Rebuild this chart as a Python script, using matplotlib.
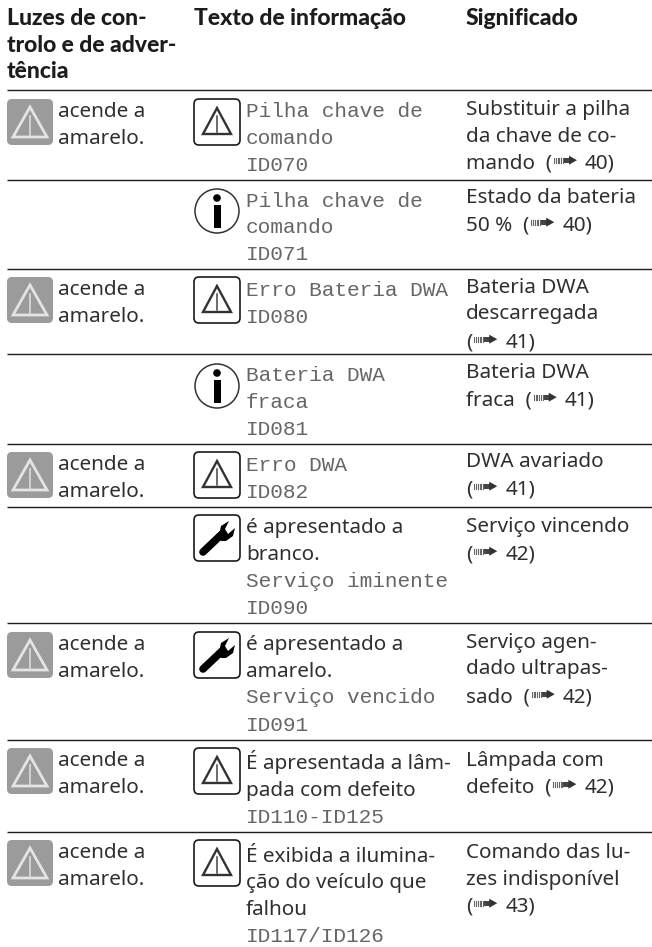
import matplotlib
matplotlib.use('Agg')
import matplotlib.pyplot as plt
from matplotlib.patches import FancyBboxPatch, Polygon, Circle, Rectangle

SANS = 'Noto Sans'
SANS_SIZE = 14.9
MONO = 'Liberation Mono'
MONO_SIZE = 15.2
TEXT_COLOR = '#2f2f2f'
MONO_COLOR = '#666666'

# horizontal rules, pixels from the top
rules = [90, 180, 269, 354, 444, 507, 623, 740, 832]

headers = [
    (7, ['Luzes de con-', 'trolo e de adver-', 'tência']),
    (194, ['Texto de informação']),
    (466, ['Significado']),
]

# left column: top of the grey icon for rows that have one
lamp_rows = [99, 277, 452, 632, 748, 840]

# middle column icon: (kind, top)
info_icons = [
    ('warn', 99), ('info', 188), ('warn', 277), ('info', 363), ('warn', 452),
    ('wrench', 515), ('wrench', 632), ('warn', 748), ('warn', 840),
]

# middle column text, s = sans, m = mono: (kind, baseline, text)
info_text = [
    [('m', 117, 'Pilha chave de'), ('m', 144, 'comando'), ('m', 171, 'ID070')],
    [('m', 207, 'Pilha chave de'), ('m', 233, 'comando'), ('m', 260, 'ID071')],
    [('m', 296, 'Erro Bateria DWA'), ('m', 323, 'ID080')],
    [('m', 381, 'Bateria DWA'), ('m', 408, 'fraca'), ('m', 435, 'ID081')],
    [('m', 471, 'Erro DWA'), ('m', 498, 'ID082')],
    [('s', 533, 'é apresentado a'), ('s', 560, 'branco.'),
     ('m', 587, 'Serviço iminente'), ('m', 614, 'ID090')],
    [('s', 650, 'é apresentado a'), ('s', 677, 'amarelo.'),
     ('m', 703, 'Serviço vencido'), ('m', 731, 'ID091')],
    [('s', 769, 'É apresentada a lâm-'), ('s', 796, 'pada com defeito'),
     ('m', 823, 'ID110-ID125')],
    [('s', 862, 'É exibida a ilumina-'), ('s', 888, 'ção do veículo que'),
     ('s', 915, 'falhou'), ('m', 942, 'ID117/ID126')],
]

# right column: (baseline, before arrow, page or None)
meaning = [
    (115, 'Substituir a pilha', None), (141.5, 'da chave de co-', None),
    (168, 'mando  (', '40)'),
    (203, 'Estado da bateria', None), (230, '50 %  (', '40)'),
    (293, 'Bateria DWA', None), (319, 'descarregada', None), (347, '(', '41)'),
    (378, 'Bateria DWA', None), (405, 'fraca  (', '41)'),
    (467, 'DWA avariado', None), (494, '(', '41)'),
    (532, 'Serviço vincendo', None), (559, '(', '42)'),
    (648, 'Serviço agen-', None), (674, 'dado ultrapas-', None), (702, 'sado  (', '42)'),
    (766, 'Lâmpada com', None), (792, 'defeito  (', '42)'),
    (858, 'Comando das lu-', None), (885, 'zes indisponível', None), (911, '(', '43)'),
]

fig = plt.figure(figsize=(6.52, 9.47), dpi=100)
ax = fig.add_axes([0, 0, 1, 1])
ax.set_xlim(0, 652)
ax.set_ylim(947, 0)
ax.axis('off')


def lamp_icon(x, y):
    ax.add_patch(FancyBboxPatch((x + 3, y + 3), 40, 40, boxstyle='round,pad=3,rounding_size=5',
                                fc='#9b9b9b', ec='none'))
    ax.add_patch(Polygon([(x + 23, y + 8), (x + 6, y + 38), (x + 40, y + 38)], closed=True,
                         fc='none', ec='#e4e4e4', lw=2))
    ax.plot([x + 23, x + 23], [y + 17, y + 37], color='#dddddd', lw=1.2)


def warn_icon(x, y):
    ax.add_patch(FancyBboxPatch((x + 3, y + 3), 40, 40, boxstyle='round,pad=3,rounding_size=5',
                                fc='white', ec='#1a1a1a', lw=1.2))
    ax.add_patch(Polygon([(x + 23, y + 9), (x + 9, y + 35), (x + 37, y + 35)], closed=True,
                         fc='none', ec='#333333', lw=1.7))
    ax.plot([x + 23, x + 23], [y + 17, y + 33], color='#444444', lw=1.1)


def info_icon(x, y):
    ax.add_patch(Circle((x + 23, y + 23), 22, fc='white', ec='#333333', lw=1.1))
    ax.add_patch(Circle((x + 23, y + 10), 3.8, fc='black', ec='none'))
    ax.add_patch(Rectangle((x + 19.5, y + 17), 7, 23, fc='black', ec='none'))


def wrench_icon(x, y):
    ax.add_patch(FancyBboxPatch((x + 3, y + 3), 40, 40, boxstyle='round,pad=3,rounding_size=5',
                                fc='white', ec='#1a1a1a', lw=1.2))
    ax.plot([x + 9, x + 28], [y + 37, y + 19], color='black', lw=5.5, solid_capstyle='round')
    ax.add_patch(Polygon([(x + 25, y + 20), (x + 27, y + 11), (x + 35, y + 6), (x + 31, y + 14),
                          (x + 34, y + 19), (x + 41, y + 13), (x + 39, y + 21), (x + 32, y + 26),
                          (x + 27, y + 26)], closed=True, fc='black', ec='none'))


def arrow_mark(x, baseline):
    # striped arrow used for page references
    for i in range(6):
        ax.plot([x + i * 1.8, x + i * 1.8], [baseline - 10.5, baseline - 5], color='#666666', lw=0.8)
    ax.add_patch(Rectangle((x + 10, baseline - 10.5), 6, 5.5, fc='#444444', ec='none'))
    ax.add_patch(Polygon([(x + 15, baseline - 12.3), (x + 23, baseline - 7.8), (x + 15, baseline - 3.3)],
                         closed=True, fc='#333333', ec='none'))


for y in rules:
    ax.plot([7, 652], [y, y], color='#1c1c1c', lw=1.0, solid_capstyle='butt')

for x, lines in headers:
    for i, line in enumerate(lines):
        ax.text(x, 25 + i * 26.5, line, family='Lato', weight='black', fontsize=16.5,
                color='#1c1c1c', va='baseline')

for top in lamp_rows:
    lamp_icon(7, top)
    ax.text(58, top + 18, 'acende a', family=SANS, fontsize=SANS_SIZE, color=TEXT_COLOR, va='baseline')
    ax.text(58, top + 45, 'amarelo.', family=SANS, fontsize=SANS_SIZE, color=TEXT_COLOR, va='baseline')

draw_icon = {'warn': warn_icon, 'info': info_icon, 'wrench': wrench_icon}
for kind, top in info_icons:
    draw_icon[kind](194, top)

for row in info_text:
    for kind, y, line in row:
        if kind == 'm':
            ax.text(246, y, line, family=MONO, fontsize=MONO_SIZE, color=MONO_COLOR, va='baseline')
        else:
            ax.text(246, y, line, family=SANS, fontsize=SANS_SIZE, color=TEXT_COLOR, va='baseline')

fig.canvas.draw()
renderer = fig.canvas.get_renderer()
for y, before, page in meaning:
    t = ax.text(466, y, before, family=SANS, fontsize=SANS_SIZE, color=TEXT_COLOR, va='baseline')
    if page:
        x_end = t.get_window_extent(renderer).x1
        arrow_mark(x_end + 2, y)
        ax.text(x_end + 33, y, page, family=SANS, fontsize=SANS_SIZE, color=TEXT_COLOR, va='baseline')

fig.savefig('out.png', dpi=100)
